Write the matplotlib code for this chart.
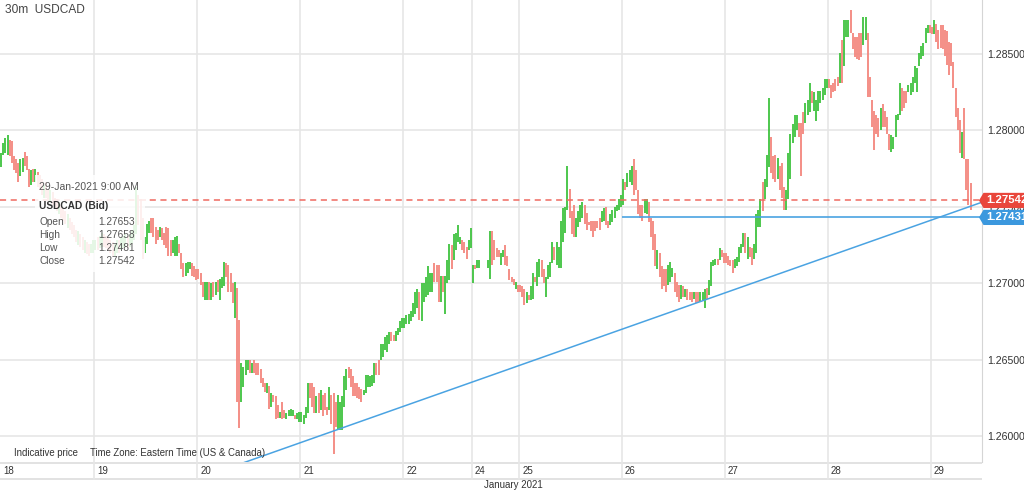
import numpy as np
import matplotlib
matplotlib.use("Agg")
import matplotlib.pyplot as plt
from matplotlib.patches import Polygon, Rectangle
from matplotlib.transforms import blended_transform_factory

plt.rcParams["font.family"] = ["Liberation Sans", "DejaVu Sans"]

# ---- 30m USDCAD bars: high / low per bar, direction g = up, r = down ----
day_labels = ["18", "19", "20", "21", "22", "24", "25", "26", "27", "28", "29"]

h18 = [1.2785, 1.2792, 1.2795, 1.2797, 1.2794, 1.2793, 1.2783, 1.2781, 1.2779, 1.2781,
       1.2782, 1.2786, 1.2783, 1.2775, 1.2774, 1.2775, 1.2775, 1.2773, 1.2771, 1.2768,
       1.2764, 1.2766, 1.2762, 1.2761, 1.2760, 1.2756, 1.2755, 1.2753, 1.2751, 1.2749,
       1.2747, 1.2745, 1.2743, 1.2740, 1.2738, 1.2735, 1.2734, 1.2732, 1.2730, 1.2728,
       1.2727, 1.2726, 1.2726, 1.2728]
l18 = [1.2776, 1.2784, 1.2785, 1.2784, 1.2783, 1.2779, 1.2774, 1.2772, 1.2766, 1.2770,
       1.2773, 1.2777, 1.2774, 1.2763, 1.2764, 1.2766, 1.2766, 1.2763, 1.2761, 1.2758,
       1.2756, 1.2756, 1.2755, 1.2753, 1.2751, 1.2749, 1.2747, 1.2745, 1.2743, 1.2741,
       1.2739, 1.2736, 1.2735, 1.2732, 1.2730, 1.2727, 1.2725, 1.2724, 1.2722, 1.2720,
       1.2719, 1.2718, 1.2720, 1.2720]
d18 = "ggggrrrrrggrrrgrgrrrgrrgrrrgrrrgrrrrgrrgrrgg"

h19 = [1.2728, 1.2730, 1.2731, 1.2733, 1.2732, 1.2731, 1.2730, 1.2728, 1.2727, 1.2726,
       1.2728, 1.2728, 1.2730, 1.2731, 1.2732, 1.2731, 1.2732, 1.2735, 1.2738, 1.2763,
       1.2758, 1.2755, 1.2743, 1.2730, 1.2739, 1.2741, 1.2743, 1.2743, 1.2737, 1.2735,
       1.2737, 1.2736, 1.2733, 1.2737, 1.2736, 1.2728, 1.2728, 1.2730, 1.2731, 1.2726,
       1.2720, 1.2713, 1.2713, 1.2714, 1.2714, 1.2713, 1.2711, 1.2709]
l19 = [1.2722, 1.2722, 1.2723, 1.2724, 1.2724, 1.2723, 1.2722, 1.2720, 1.2718, 1.2718,
       1.2720, 1.2720, 1.2722, 1.2723, 1.2724, 1.2723, 1.2724, 1.2726, 1.2728, 1.2732,
       1.2738, 1.2728, 1.2716, 1.2720, 1.2726, 1.2733, 1.2733, 1.2730, 1.2726, 1.2728,
       1.2730, 1.2728, 1.2725, 1.2723, 1.2718, 1.2718, 1.2720, 1.2718, 1.2718, 1.2720,
       1.2709, 1.2704, 1.2705, 1.2707, 1.2709, 1.2705, 1.2704, 1.2702]
d19 = "grggrrrrrggrgggrggggrrrgggrrrrgrrrrrgggrrrgggrrr"

h20 = [1.2709, 1.2707, 1.2701, 1.2701, 1.2701, 1.2701, 1.2700, 1.2701, 1.2701, 1.2702,
       1.2703, 1.2704, 1.2714, 1.2713, 1.2712, 1.2707, 1.2700, 1.2701, 1.2697, 1.2676,
       1.2648, 1.2645, 1.2650, 1.2650, 1.2650, 1.2648, 1.2650, 1.2648, 1.2648, 1.2644,
       1.2638, 1.2635, 1.2635, 1.2633, 1.2628, 1.2627, 1.2626, 1.2620, 1.2616, 1.2622,
       1.2617, 1.2615, 1.2617, 1.2618, 1.2617, 1.2614, 1.2615, 1.2616]
l20 = [1.2703, 1.2699, 1.2691, 1.2689, 1.2689, 1.2689, 1.2689, 1.2691, 1.2692, 1.2694,
       1.2689, 1.2697, 1.2698, 1.2704, 1.2694, 1.2694, 1.2687, 1.2677, 1.2622, 1.2605,
       1.2622, 1.2632, 1.2640, 1.2643, 1.2641, 1.2641, 1.2641, 1.2640, 1.2640, 1.2635,
       1.2632, 1.2629, 1.2628, 1.2618, 1.2619, 1.2622, 1.2611, 1.2612, 1.2612, 1.2611,
       1.2612, 1.2611, 1.2613, 1.2613, 1.2613, 1.2611, 1.2611, 1.2609]
d20 = "rrrggrgrgrgggrrrrgrrggggrgrrrrrrgrgrrrgrrggggrgg"

h21 = [1.2616, 1.2614, 1.2619, 1.2635, 1.2635, 1.2635, 1.2632, 1.2626, 1.2628, 1.2630,
       1.2627, 1.2628, 1.2619, 1.2632, 1.2627, 1.2628, 1.2622, 1.2627, 1.2622, 1.2626,
       1.2639, 1.2644, 1.2645, 1.2644, 1.2639, 1.2635, 1.2635, 1.2632, 1.2631, 1.2630,
       1.2640, 1.2640, 1.2639, 1.2640, 1.2648, 1.2648, 1.2650, 1.2660, 1.2660, 1.2665,
       1.2666, 1.2668, 1.2668, 1.2666, 1.2669, 1.2671, 1.2675, 1.2677]
l21 = [1.2609, 1.2608, 1.2612, 1.2615, 1.2625, 1.2619, 1.2615, 1.2615, 1.2615, 1.2617,
       1.2613, 1.2617, 1.2614, 1.2617, 1.2608, 1.2588, 1.2606, 1.2604, 1.2604, 1.2604,
       1.2619, 1.2630, 1.2638, 1.2632, 1.2626, 1.2626, 1.2625, 1.2624, 1.2622, 1.2627,
       1.2628, 1.2632, 1.2632, 1.2633, 1.2635, 1.2640, 1.2640, 1.2650, 1.2652, 1.2656,
       1.2655, 1.2660, 1.2662, 1.2662, 1.2662, 1.2666, 1.2668, 1.2671]
d21 = "ggggrrrgrgrrrgrrrgggggrrrrrrrggggggrrgggggrrgggg"

h22 = [1.2677, 1.2679, 1.2680, 1.2682, 1.2687, 1.2694, 1.2696, 1.2694, 1.2700, 1.2700,
       1.2704, 1.2711, 1.2707, 1.2707, 1.2713, 1.2712, 1.2712, 1.2705, 1.2705, 1.2705,
       1.2715, 1.2726, 1.2725, 1.2732, 1.2733, 1.2738, 1.2730, 1.2728, 1.2727, 1.2724,
       1.2728, 1.2736]
l22 = [1.2671, 1.2673, 1.2673, 1.2675, 1.2678, 1.2680, 1.2684, 1.2676, 1.2675, 1.2688,
       1.2691, 1.2692, 1.2694, 1.2694, 1.2701, 1.2701, 1.2688, 1.2688, 1.2694, 1.2680,
       1.2700, 1.2702, 1.2709, 1.2715, 1.2722, 1.2727, 1.2726, 1.2722, 1.2720, 1.2716,
       1.2722, 1.2723]
d22 = "gggggggrggggggrrrgrgggrggggrrrgg"

nan = float("nan")
h24 = [1.2712, 1.2712, 1.2715, 1.2715, nan, nan, nan, 1.2715, 1.2734, 1.2734,
       1.2728, 1.2723, 1.2722, 1.2720, 1.2722, 1.2725, 1.2718, 1.2709, 1.2704, 1.2703,
       1.2701, 1.2699]
l24 = [1.2700, 1.2709, 1.2710, 1.2710, nan, nan, nan, 1.2710, 1.2703, 1.2712,
       1.2715, 1.2717, 1.2717, 1.2712, 1.2717, 1.2712, 1.2711, 1.2702, 1.2701, 1.2699,
       1.2696, 1.2694]
d24 = "grgggggggrrrrggrrrrrgr"

h25 = [1.2699, 1.2698, 1.2696, 1.2694, 1.2692, 1.2698, 1.2707, 1.2704, 1.2714, 1.2716,
       1.2715, 1.2709, 1.2704, 1.2712, 1.2714, 1.2727, 1.2724, 1.2727, 1.2724, 1.2741,
       1.2749, 1.2750, 1.2777, 1.2762, 1.2747, 1.2751, 1.2743, 1.2747, 1.2751, 1.2753,
       1.2751, 1.2746, 1.2740, 1.2741, 1.2741, 1.2741, 1.2741, 1.2743, 1.2747, 1.2749,
       1.2750, 1.2741, 1.2745, 1.2748, 1.2750, 1.2751, 1.2755, 1.2758]
l25 = [1.2694, 1.2691, 1.2686, 1.2687, 1.2689, 1.2689, 1.2690, 1.2701, 1.2698, 1.2704,
       1.2704, 1.2700, 1.2691, 1.2703, 1.2704, 1.2713, 1.2715, 1.2712, 1.2710, 1.2710,
       1.2727, 1.2733, 1.2748, 1.2743, 1.2732, 1.2730, 1.2730, 1.2737, 1.2740, 1.2743,
       1.2739, 1.2735, 1.2738, 1.2734, 1.2730, 1.2734, 1.2736, 1.2735, 1.2740, 1.2741,
       1.2738, 1.2736, 1.2738, 1.2740, 1.2743, 1.2747, 1.2748, 1.2750]
d25 = "rrrgrggrggrrggggrggggggrrrggggrrrrrrrrggrrgggggg"

h26 = [1.2768, 1.2766, 1.2772, 1.2774, 1.2777, 1.2781, 1.2774, 1.2761, 1.2751, 1.2751,
       1.2755, 1.2755, 1.2753, 1.2743, 1.2741, 1.2732, 1.2722, 1.2720, 1.2711, 1.2709,
       1.2709, 1.2712, 1.2714, 1.2710, 1.2707, 1.2701, 1.2699, 1.2699, 1.2698, 1.2696,
       1.2696, 1.2694, 1.2694, 1.2694, 1.2694, 1.2694, 1.2694, 1.2694, 1.2696, 1.2697,
       1.2702, 1.2714, 1.2715, 1.2716, 1.2716, 1.2723, 1.2722, 1.2720]
l26 = [1.2751, 1.2761, 1.2763, 1.2766, 1.2764, 1.2758, 1.2761, 1.2745, 1.2743, 1.2741,
       1.2746, 1.2745, 1.2740, 1.2730, 1.2722, 1.2711, 1.2709, 1.2704, 1.2696, 1.2698,
       1.2694, 1.2699, 1.2701, 1.2704, 1.2694, 1.2691, 1.2688, 1.2690, 1.2691, 1.2691,
       1.2689, 1.2689, 1.2688, 1.2690, 1.2687, 1.2688, 1.2688, 1.2689, 1.2684, 1.2690,
       1.2692, 1.2698, 1.2711, 1.2712, 1.2712, 1.2715, 1.2717, 1.2713]
d26 = "grgggrrrrrggrrrrgrrrrgggrrrgrgrrrgrrgggrggggrgrr"

h27 = [1.2720, 1.2718, 1.2715, 1.2715, 1.2716, 1.2717, 1.2724, 1.2726, 1.2733, 1.2733,
       1.2730, 1.2724, 1.2723, 1.2726, 1.2745, 1.2748, 1.2755, 1.2766, 1.2768, 1.2784,
       1.2821, 1.2796, 1.2783, 1.2784, 1.2782, 1.2777, 1.2779, 1.2763, 1.2761, 1.2785,
       1.2798, 1.2804, 1.2810, 1.2810, 1.2805, 1.2805, 1.2812, 1.2818, 1.2820, 1.2831,
       1.2826, 1.2825, 1.2820, 1.2826, 1.2826, 1.2828, 1.2834, 1.2834]
l27 = [1.2713, 1.2712, 1.2711, 1.2707, 1.2710, 1.2711, 1.2714, 1.2720, 1.2724, 1.2720,
       1.2716, 1.2717, 1.2712, 1.2716, 1.2720, 1.2737, 1.2737, 1.2747, 1.2755, 1.2763,
       1.2776, 1.2772, 1.2768, 1.2766, 1.2768, 1.2761, 1.2756, 1.2748, 1.2748, 1.2755,
       1.2768, 1.2792, 1.2796, 1.2800, 1.2796, 1.2770, 1.2798, 1.2805, 1.2810, 1.2812,
       1.2818, 1.2813, 1.2806, 1.2813, 1.2818, 1.2820, 1.2823, 1.2828]
d27 = "rrrrgggggrgrrggggrgggrrrgrrrggggggrrrgggrggggggg"

h28 = [1.2834, 1.2830, 1.2831, 1.2834, 1.2835, 1.2851, 1.2859, 1.2872, 1.2872, 1.2872,
       1.2879, 1.2864, 1.2861, 1.2861, 1.2864, 1.2864, 1.2874, 1.2874, 1.2864, 1.2835,
       1.2820, 1.2813, 1.2810, 1.2808, 1.2815, 1.2817, 1.2813, 1.2809, 1.2798, 1.2797,
       1.2796, 1.2810, 1.2811, 1.2831, 1.2828, 1.2826, 1.2826, 1.2830, 1.2831, 1.2835,
       1.2842, 1.2841, 1.2851, 1.2855, 1.2857, 1.2867, 1.2869, 1.2869]
l28 = [1.2828, 1.2821, 1.2825, 1.2826, 1.2829, 1.2831, 1.2831, 1.2842, 1.2861, 1.2861,
       1.2864, 1.2853, 1.2848, 1.2847, 1.2846, 1.2848, 1.2856, 1.2859, 1.2822, 1.2822,
       1.2802, 1.2787, 1.2798, 1.2796, 1.2800, 1.2802, 1.2802, 1.2798, 1.2787, 1.2786,
       1.2788, 1.2796, 1.2807, 1.2810, 1.2813, 1.2815, 1.2818, 1.2825, 1.2823, 1.2825,
       1.2831, 1.2825, 1.2842, 1.2847, 1.2849, 1.2857, 1.2864, 1.2864]
d28 = "rrrrrgrgggrrrrrrggrrrrrrgrrrrgggggrrrggggggggggr"

h29 = [1.2868, 1.2872, 1.2870, 1.2866, 1.2869, 1.2869, 1.2866, 1.2865, 1.2858, 1.2857,
       1.2845, 1.2828, 1.2815, 1.2807, 1.2799, 1.2815, 1.2781, 1.2781, 1.27658]
l29 = [1.2863, 1.2863, 1.2858, 1.2853, 1.2854, 1.2853, 1.2849, 1.2843, 1.2836, 1.2842,
       1.2828, 1.2809, 1.2800, 1.2785, 1.2782, 1.2781, 1.2761, 1.2751, 1.27481]
d29 = "rgrrrrrrrrrrrrgrrrr"

last_bar = {"Open": "1.27653", "High": "1.27658", "Low": "1.27481", "Close": "1.27542"}
last_close = 1.27542
support_level = 1.27431
# trendline drawn on the chart: (bar index, price)
trend_start = (112.8, 1.25824)
trend_end = (457.6, 1.27532)
support_from_day = "26"

highs_by_day = [h18, h19, h20, h21, h22, h24, h25, h26, h27, h28, h29]
lows_by_day = [l18, l19, l20, l21, l22, l24, l25, l26, l27, l28, l29]
dirs_by_day = [d18, d19, d20, d21, d22, d24, d25, d26, d27, d28, d29]

day_start = []
highs, lows, dirs = [], [], ""
for hh, ll, dd in zip(highs_by_day, lows_by_day, dirs_by_day):
    assert len(hh) == len(ll) == len(dd), (len(hh), len(ll), len(dd))
    day_start.append(len(highs))
    highs += hh
    lows += ll
    dirs += dd
highs = np.array(highs)
lows = np.array(lows)
up = np.array([c == "g" for c in dirs])
x = np.arange(len(highs))

GREEN = "#3fc33f"
RED = "#f3867d"
BLUE = "#4aa3e2"
GRID = "#e6e6e6"
TXT = "#333333"

W, H = 1024, 490
fig = plt.figure(figsize=(W / 100, H / 100), dpi=100)
ax = fig.add_axes([0, 28 / H, 982 / W, 462 / H])
ax.set_xlim(-0.5, 457.3)
ax.set_ylim(1.25830, 1.28854)

# grid
for p in np.arange(1.26, 1.2851, 0.005):
    ax.axhline(p, color=GRID, lw=1.2, zorder=0)
for s in day_start[1:]:
    ax.axvline(s - 0.5, color=GRID, lw=1.2, zorder=0)

# bars
ax.vlines(x[up], lows[up], highs[up], color=GREEN, lw=1.3, zorder=2)
ax.vlines(x[~up], lows[~up], highs[~up], color=RED, lw=1.3, zorder=2)

# last price / support / trend
ax.axhline(last_close, color="#ef6a61", lw=1.1, ls=(0, (4, 3)), zorder=3)
s26 = day_start[day_labels.index(support_from_day)] - 0.5
ax.hlines(support_level, s26, 457.3, color=BLUE, lw=1.2, zorder=3)
ax.plot([trend_start[0], trend_end[0]], [trend_start[1], trend_end[1]],
        color=BLUE, lw=1.1, zorder=3)

for sp in ["top", "left", "bottom"]:
    ax.spines[sp].set_visible(False)
ax.spines["right"].set_color("#d5d5d5")
ax.set_xticks([])
ax.yaxis.tick_right()
ax.set_yticks(np.arange(1.26, 1.2851, 0.005))
ax.set_yticklabels([f"{p:.5f}" for p in np.arange(1.26, 1.2851, 0.005)])
ax.tick_params(axis="y", length=0, pad=4, labelsize=7.6, labelcolor=TXT)

# price tags on the right
blend = blended_transform_factory(ax.transAxes, ax.transData)
hh = 7.6 * (1.28854 - 1.25830) / 462
for level, col in [(last_close, "#e9463b"), (support_level, "#3b98de")]:
    x0, x1, tip = 1 + 1.5 / 982, 1 + 44 / 982, 1 - 3 / 982
    ax.add_patch(Polygon([(tip, level), (x0, level + hh), (x1, level + hh),
                          (x1, level - hh), (x0, level - hh)], closed=True,
                         fc=col, ec="none", transform=blend, clip_on=False, zorder=6))
    ax.text(x0 + 2.5 / 982, level, f"{level:.5f}", transform=blend, color="white",
            fontweight="bold", fontsize=8.2, va="center", ha="left",
            clip_on=False, zorder=7)

# title + footnotes
fig.text(5 / W, 1 - 10 / H, "30m  USDCAD", fontsize=8.6, color="#444444",
         ha="left", va="center")
fig.text(14 / W, 1 - 453 / H, "Indicative price", fontsize=6.9, color=TXT,
         ha="left", va="center")
fig.text(90 / W, 1 - 453 / H, "Time Zone: Eastern Time (US & Canada)", fontsize=6.9,
         color=TXT, ha="left", va="center")

# tooltip box
fig.patches.append(Rectangle((35 / W, 1 - 272 / H), 110 / W, 97 / H,
                             transform=fig.transFigure, fc="white", alpha=0.86,
                             ec="none", zorder=4))
fig.text(39 / W, 1 - 187 / H, "29-Jan-2021 9:00 AM", fontsize=7.5, color="#555555",
         ha="left", va="center", zorder=5)
fig.text(39 / W, 1 - 206 / H, "USDCAD (Bid)", fontsize=7.3, color="#333333",
         fontweight="bold", ha="left", va="center", zorder=5)
for i, (k, v) in enumerate(last_bar.items()):
    yy = 1 - (222 + 13 * i) / H
    fig.text(39 / W, yy, k, fontsize=7.3, color="#555555", ha="left", va="center", zorder=5)
    fig.text(135 / W, yy, v, fontsize=7.3, color="#555555", ha="right", va="center", zorder=5)

# date band
px_per_bar = 982 / (457.3 + 0.5)
band = fig.add_axes([0, 0, 982 / W, 28 / H])
band.set_xlim(0, 982)
band.set_ylim(28, 0)
band.axis("off")
band.axhline(0.5, color="#dddddd", lw=1.2)
band.axhline(16.5, color="#dddddd", lw=1.2)
for lab, s in zip(day_labels, day_start):
    xp = (s - 0.5 + 0.5) * px_per_bar if s else 0
    if s:
        band.plot([xp, xp], [0, 16.5], color=GRID, lw=1.2)
    band.text(xp + 3, 9, lab, fontsize=7, color=TXT, ha="left", va="center")
band.text(513, 22.5, "January 2021", fontsize=7, color=TXT, ha="center", va="center")

fig.savefig("out.png", dpi=100)
